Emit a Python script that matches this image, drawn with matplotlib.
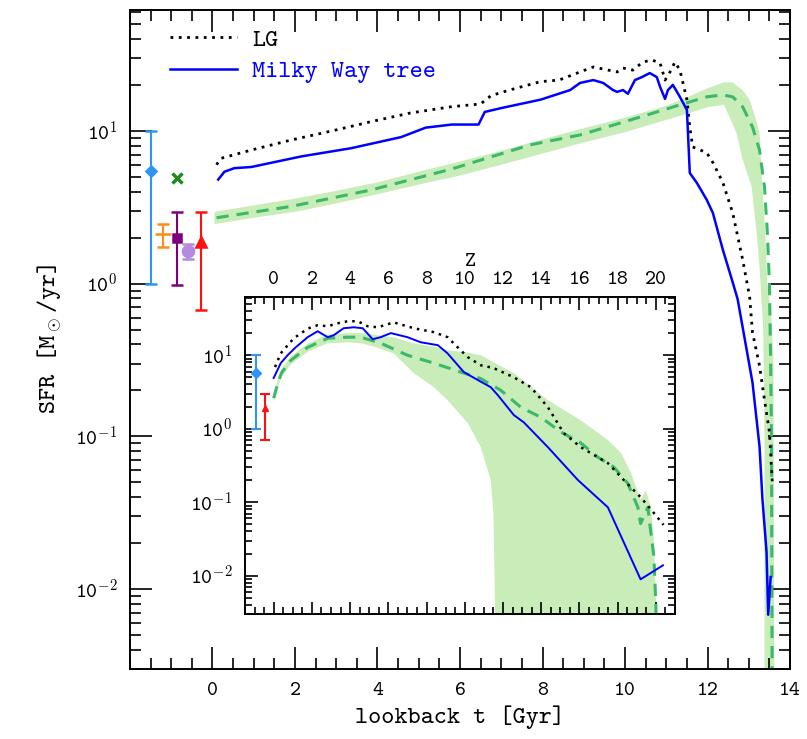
import matplotlib
matplotlib.use("Agg")
import matplotlib.pyplot as plt
import matplotlib.ticker as ticker
import numpy as np

plt.rcParams["font.family"] = ["cmtt10", "DejaVu Sans"]
plt.rcParams["mathtext.fontset"] = "cm"
plt.rcParams["axes.unicode_minus"] = False

COLOR_MW = "#0000ff"
COLOR_MEAN = "#3cb86a"
COLOR_BAND = "#c8edb8"

# ---- main panel: SFR vs lookback time [Gyr] ----
t_lg = [0.1, 0.2, 0.95, 1.9, 2.9, 3.85, 4.8, 5.8, 6.5, 6.75, 7.2, 7.95, 8.4, 8.91,
        9.23, 9.81, 9.95, 10.19, 10.43, 10.65, 10.85, 10.97, 11.09, 11.21, 11.33,
        11.5, 11.57, 11.64, 11.98, 12.13, 12.37, 12.61, 12.85, 13.02, 13.09, 13.26,
        13.38, 13.5, 13.57]
sfr_lg = [6.0, 6.6, 7.5, 8.7, 10.0, 11.5, 13.1, 14.4, 15.0, 17.0, 18.5, 21.0, 21.5,
          24.3, 26.2, 24.3, 25.8, 25.0, 28.2, 29.1, 27.8, 21.5, 24.3, 28.2, 25.0,
          16.0, 10.6, 7.85, 7.2, 6.2, 4.6, 2.9, 1.44, 0.82, 0.48, 0.29, 0.174,
          0.107, 0.05]

t_mw = [0.14, 0.29, 0.53, 0.94, 2.15, 3.36, 4.57, 5.17, 5.8, 6.45, 6.6, 7.0, 7.95,
        8.67, 8.91, 9.23, 9.47, 9.71, 9.81, 9.95, 10.07, 10.24, 10.41, 10.6, 10.77,
        10.85, 10.97, 11.04, 11.16, 11.33, 11.5, 11.57, 11.74, 11.98, 12.13, 12.37,
        12.61, 12.73, 12.85, 13.09, 13.26, 13.33, 13.43, 13.47, 13.53]
sfr_mw = [4.8, 5.4, 5.7, 5.8, 6.8, 7.7, 9.1, 10.5, 11.0, 11.0, 13.3, 14.1, 16.0,
          18.5, 20.6, 21.5, 20.6, 18.5, 18.0, 18.5, 17.5, 21.5, 22.5, 23.9, 22.5,
          19.4, 16.2, 18.5, 20.0, 16.7, 13.7, 5.3, 4.57, 3.54, 2.9, 1.67, 1.02,
          0.79, 0.52, 0.225, 0.086, 0.039, 0.0175, 0.0068, 0.012]

t_mean = [0.1, 1.9, 3.84, 5.77, 7.7, 8.91, 9.71, 10.53, 11.33, 11.98, 12.37, 12.61,
          12.85, 13.09, 13.26, 13.38, 13.45, 13.5, 13.53, 13.55, 13.56, 13.57]
sfr_mean = [2.7, 3.2, 4.1, 5.6, 8.1, 9.4, 10.9, 12.7, 14.8, 16.7, 17.2, 16.7, 14.4,
            10.6, 7.5, 4.3, 2.15, 1.0, 0.3, 0.1, 0.01, 0.001]

band_up_t = [0.05, 1, 2, 3, 4, 5, 6, 7, 8, 9, 10, 11, 11.6, 12.0, 12.4, 12.6,
             12.85, 13.02, 13.15, 13.26, 13.33, 13.4, 13.45, 13.55, 13.6, 13.62]
band_up_sfr = [2.95, 3.25, 3.6, 4.05, 4.6, 5.4, 6.3, 7.4, 8.8, 10.4, 12.2, 14.6, 17.0,
               19.0, 20.8, 20.8, 18.5, 16.0, 12.5, 9.7, 4.3, 2.15, 1.0, 0.6, 0.3, 0.001]
band_lo_t = [0.05, 1, 2, 3, 4, 5, 6, 7, 8, 9, 10, 11, 11.6, 12.0, 12.4, 12.7, 12.85,
             13.07, 13.19, 13.26, 13.35, 13.38, 13.38]
band_lo_sfr = [2.45, 2.7, 2.95, 3.35, 3.85, 4.45, 5.1, 6.0, 7.1, 8.4, 9.8, 11.8, 13.2,
               14.3, 14.8, 9.7, 6.5, 4.3, 2.15, 1.29, 0.5, 0.1, 0.001]

# observational estimates (position, value, lower, upper)
obs_t = [-1.49, -1.19, -0.87, -0.59, -0.28]
obs_sfr = [5.5, 2.12, 1.99, 1.63, 1.86]
obs_lo = [1.0, 1.75, 0.98, 1.44, 0.67]
obs_hi = [10.0, 2.47, 2.94, 1.82, 2.94]
obs_colors = ["#2f95f5", "#ff8c1a", "#800080", "#b48be0", "#ff1010"]
obs_markers = ["D", "_", "s", "o", "^"]
obs_ms = [5, 11, 6, 8, 7]
obs_x_t, obs_x_sfr = -0.87, 4.95

# ---- inset: SFR vs redshift ----
z_lg = [0.07, 0.37, 1.05, 1.78, 2.3, 2.83, 3.35, 3.87, 4.4, 4.92, 5.45, 6.28, 7.33,
        8.38, 9.1, 9.63, 10.16, 10.84, 11.5, 12.57, 13.46, 14.35, 15.18, 16.07,
        17.49, 18.32, 19.2, 19.9, 20.4]
zsfr_lg = [6.9, 10.6, 17, 23, 25.6, 24.8, 27.2, 29, 29, 24.8, 24, 28, 23.3, 20.6,
           17.6, 12.8, 9.4, 7.3, 6.7, 5.0, 3.67, 1.96, 0.87, 0.56, 0.34, 0.2, 0.117,
           0.071, 0.049]

z_mw = [0.0, 0.37, 0.73, 1.15, 1.78, 2.3, 2.83, 3.14, 3.66, 4.19, 4.66, 5.18, 5.6,
        6.13, 7.0, 7.7, 8.59, 9.1, 9.95, 10.68, 11.36, 11.73, 12.57, 13.09, 14.35,
        15.92, 17.49, 19.2, 20.37]
zsfr_mw = [4.9, 7.8, 10, 12.8, 17.6, 21.2, 17.6, 18.7, 23.3, 24, 23.3, 16.5, 17.6,
           20, 17.6, 15, 13.7, 10.6, 5.9, 4.6, 3.67, 2.86, 1.53, 1.22, 0.56, 0.2,
           0.085, 0.0089, 0.0138]

z_mean = [0.0, 0.15, 0.4, 0.89, 1.78, 2.83, 3.87, 4.55, 5.6, 7.0, 8.38, 9.79, 10.84,
          11.88, 12.93, 13.98, 15.03, 16.07, 16.96, 17.8, 18.53, 19.06, 19.2, 19.58,
          19.74, 19.9, 20.0, 20.05]
zsfr_mean = [2.6, 3.6, 5.7, 8.5, 12.8, 17, 17.6, 17.6, 14.6, 10, 7.8, 5.9, 4.8, 3.34,
             1.96, 1.43, 0.9, 0.64, 0.41, 0.3, 0.18, 0.085, 0.051, 0.085, 0.038,
             0.018, 0.004, 0.001]

zband_up_z = [0.0, 0.15, 0.4, 0.9, 1.8, 2.8, 3.9, 4.6, 5.6, 6.3, 7.3, 8.4, 9.1, 10.0,
              10.84, 11.7, 12.57, 14.35, 16.07, 17.49, 18.17, 18.7, 19.2, 19.48,
              19.74, 19.9, 20.1]
zband_up_sfr = [2.9, 4.1, 6.4, 9.6, 14.5, 19, 20, 20, 18.5, 17.5, 14.5, 13, 11.7, 11,
                10, 7.5, 5.7, 2.44, 1.3, 0.7, 0.47, 0.25, 0.107, 0.145, 0.085, 0.03,
                0.001]
zband_lo_z = [0.0, 0.15, 0.4, 0.9, 1.8, 2.8, 3.9, 4.6, 5.3, 6.28, 7.33, 8.38, 9.1,
              10.16, 10.84, 11.36, 11.5, 11.62]
zband_lo_sfr = [2.3, 3.2, 5.0, 7.5, 11.2, 14.5, 15, 14.5, 13, 10.6, 5.7, 3.67, 2.44,
                1.19, 0.56, 0.2, 0.071, 0.001]

zobs_z = [-0.9, -0.45]
zobs_sfr = [5.7, 1.9]
zobs_lo = [1.0, 0.7]
zobs_hi = [10.0, 2.95]


def pow10_label(v, pos):
    e = int(round(np.log10(v)))
    if e < 0:
        return r"10$^{-\mathtt{%d}}$" % (-e)
    return r"10$^{\mathtt{%d}}$" % e


def style_axes(ax, major_len, minor_len, xmajor, xminor):
    ax.set_yscale("log")
    ax.xaxis.set_major_locator(ticker.MultipleLocator(xmajor))
    ax.xaxis.set_minor_locator(ticker.MultipleLocator(xminor))
    ax.yaxis.set_major_locator(ticker.LogLocator(base=10, numticks=20))
    ax.yaxis.set_minor_locator(ticker.LogLocator(base=10, subs=np.arange(2, 10), numticks=20))
    ax.yaxis.set_major_formatter(ticker.FuncFormatter(pow10_label))
    ax.yaxis.set_minor_formatter(ticker.NullFormatter())
    ax.tick_params(which="both", direction="in", top=True, right=True, width=1.2,
                   labelsize=15, pad=9)
    ax.tick_params(which="major", length=major_len)
    ax.tick_params(which="minor", length=minor_len)
    for sp in ax.spines.values():
        sp.set_linewidth(1.4)


fig = plt.figure(figsize=(8.07, 7.39), dpi=100)
ax = fig.add_axes([0.161, 0.0947, 0.818, 0.892])

ax.fill(np.concatenate([band_up_t, band_lo_t[::-1]]),
        np.concatenate([band_up_sfr, band_lo_sfr[::-1]]),
        color=COLOR_BAND, lw=0, zorder=1)
ax.plot(t_mean, sfr_mean, color=COLOR_MEAN, lw=2.2, ls=(0, (4, 2.6)), zorder=2)
ax.plot(t_lg, sfr_lg, color="black", lw=2, ls=(0, (1, 2)), zorder=3, label="LG")
ax.plot(t_mw, sfr_mw, color=COLOR_MW, lw=1.8, zorder=4, label="Milky Way tree")

for x, y, lo, hi, c, m, ms in zip(obs_t, obs_sfr, obs_lo, obs_hi, obs_colors,
                                  obs_markers, obs_ms):
    ax.errorbar([x], [y], yerr=[[y - lo], [hi - y]], color=c, marker=m, ms=ms,
                mew=1.8, elinewidth=1.5, capsize=4.5, capthick=1.5, zorder=5)
ax.plot([obs_x_t], [obs_x_sfr], marker="x", color="#1f8a1f", ms=7, mew=2.5,
        ls="none", zorder=5)

style_axes(ax, 16, 8, 2, 0.5)
ax.set_xlim(-2, 14)
ax.set_ylim(0.003, 62)
ax.set_xticks(np.arange(0, 15, 2))
ax.set_xlabel("lookback t [Gyr]", fontsize=18, labelpad=4)
ax.set_ylabel(r"SFR [M$_\odot$/yr]", fontsize=18, labelpad=8)

ax.legend(loc="upper left", bbox_to_anchor=(0.06, 0.972), frameon=False,
          borderpad=0, borderaxespad=0, handlelength=2.7, handletextpad=0.6,
          labelspacing=0.32, fontsize=18, labelcolor=["black", COLOR_MW])

# inset
axi = fig.add_axes([0.3036, 0.1691, 0.5328, 0.4290])
axi.fill(np.concatenate([zband_up_z, zband_lo_z[::-1]]),
         np.concatenate([zband_up_sfr, zband_lo_sfr[::-1]]),
         color=COLOR_BAND, lw=0, zorder=1)
axi.plot(z_mean, zsfr_mean, color=COLOR_MEAN, lw=2.2, ls=(0, (4, 2.6)), zorder=2)
axi.plot(z_lg, zsfr_lg, color="black", lw=1.8, ls=(0, (1, 2)), zorder=3)
axi.plot(z_mw, zsfr_mw, color=COLOR_MW, lw=1.4, zorder=4)
for x, y, lo, hi, c, m in zip(zobs_z, zobs_sfr, zobs_lo, zobs_hi,
                              [obs_colors[0], obs_colors[4]], ["D", "^"]):
    axi.errorbar([x], [y], yerr=[[y - lo], [hi - y]], color=c, marker=m, ms=5,
                 elinewidth=1.5, capsize=3.5, capthick=1.5, zorder=5)

style_axes(axi, 9, 5, 2, 0.5)
axi.set_xlim(-1.5, 21)
axi.set_ylim(0.003, 62)
axi.set_xticks(np.arange(0, 21, 2))
axi.tick_params(axis="x", labeltop=True, labelbottom=False, pad=6)
axi.text(0.523, 1.11, "Z", transform=axi.transAxes, ha="center", va="center",
         fontsize=15)

fig.savefig("out.png", dpi=100)
